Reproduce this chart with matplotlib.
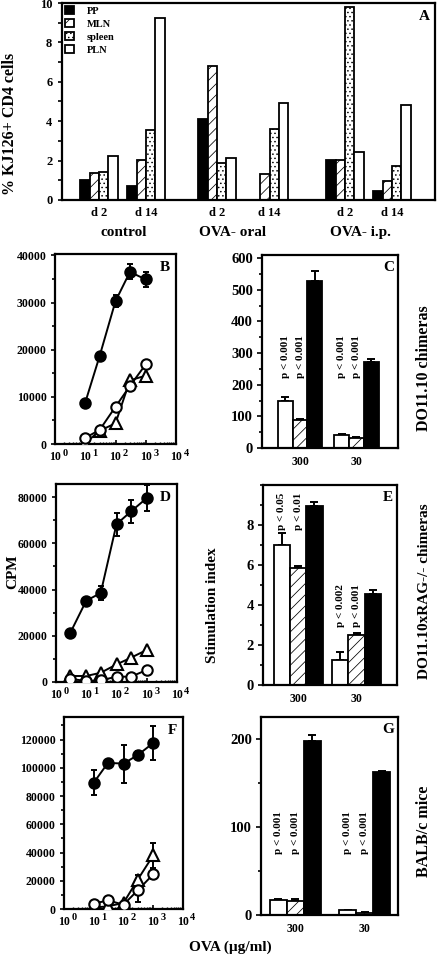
import matplotlib
matplotlib.use('Agg')
import matplotlib.pyplot as plt
import numpy as np
from matplotlib.transforms import offset_copy, blended_transform_factory
from matplotlib.ticker import MultipleLocator, FixedLocator, NullFormatter

plt.rcParams['font.family'] = ['Liberation Serif', 'DejaVu Serif']
plt.rcParams['font.weight'] = 'bold'
plt.rcParams['hatch.linewidth'] = 0.55

# ---------------- data ----------------
# Panel A
day_labels = ['d 2', 'd 14', 'd 2', 'd 14', 'd 2', 'd 14']
treatments = ['control', 'OVA- oral', 'OVA- i.p.']
organs = ['PP', 'MLN', 'spleen', 'PLN']
A_PP = [0.99, 0.72, 4.12, 0.0, 2.04, 0.45]
A_MLN = [1.37, 2.02, 6.80, 1.30, 2.03, 0.96]
A_spleen = [1.43, 3.53, 1.88, 3.60, 9.80, 1.72]
A_PLN = [2.25, 9.24, 2.15, 4.90, 2.46, 4.83]

# Panels B, D, F (CPM vs OVA concentration)
conc_B = [10, 30, 100, 300, 1000]
B_filled = [8800, 18700, 30300, 36500, 34900]
B_filled_err = [0, 0, 1300, 1600, 1500]
B_open = [1300, 3000, 7900, 12300, 16900]
B_open_err = [0, 0, 0, 0, 0]
B_tri = [200, 2800, 4400, 13500, 14500]
B_tri_err = [0, 0, 0, 0, 0]

conc_D = [3, 10, 30, 100, 300, 1000]
D_filled = [21400, 35200, 38500, 68300, 73800, 79600]
D_filled_err = [0, 0, 3000, 5000, 5000, 5800]
D_open = [1400, 400, 700, 2300, 2300, 5200]
D_open_err = [0, 0, 0, 0, 0, 0]
D_tri = [2600, 2600, 4000, 7600, 10500, 13900]
D_tri_err = [0, 0, 0, 0, 0, 0]

conc_F = [10, 30, 100, 300, 1000]
F_filled = [89500, 103500, 103000, 109000, 117600]
F_filled_err = [9000, 0, 13500, 3000, 12000]
F_open = [3800, 6100, 3100, 13200, 24600]
F_open_err = [0, 0, 0, 8000, 3000]
F_tri = [1000, 1900, 4300, 20800, 38000]
F_tri_err = [0, 0, 0, 3000, 8800]

# Panels C, E, G (bars at 300 and 30 ug/ml)
bar_cats = ['300', '30']
C_white = [150, 40]; C_white_err = [10, 4]
C_hatch = [87, 33]; C_hatch_err = [5, 3]
C_black = [528, 272]; C_black_err = [30, 10]
C_p = [['p < 0.001', 'p < 0.001'], ['p < 0.001', 'p < 0.001']]
C_p_y = [221, 221]

E_white = [7.0, 1.25]; E_white_err = [0.6, 0.38]
E_hatch = [5.83, 2.5]; E_hatch_err = [0.12, 0.08]
E_black = [8.95, 4.55]; E_black_err = [0.2, 0.2]
E_p = [['p < 0.05', 'p < 0.01'], ['p < 0.002', 'p < 0.001']]
E_p_y = [7.75, 2.92]

G_white = [16.8, 5.6]; G_white_err = [1.5, 0.5]
G_hatch = [15.7, 2.6]; G_hatch_err = [3.0, 0.5]
G_black = [198, 162.6]; G_black_err = [7, 1.5]
G_p = [['p < 0.001', 'p < 0.001'], ['p < 0.001', 'p < 0.001']]
G_p_y = [69, 69]

# ---------------- figure ----------------
W, H = 437, 958
fig = plt.figure(figsize=(W / 100, H / 100), dpi=100)


def axes_px(l, t, r, b):
    return fig.add_axes([l / W, 1 - b / H, (r - l) / W, (b - t) / H])


def ftext(x, y, s, **kw):
    fig.text(x / W, 1 - y / H, s, **kw)


def spines(ax, lw=1.6):
    for s in ax.spines.values():
        s.set_linewidth(lw)


MLN_HATCH = '///'
SPLEEN_HATCH = '....'

# ---- Panel A ----
axA = axes_px(62, 3, 435, 200)
spines(axA)
xc = np.array([37, 84, 155, 207.5, 283, 330])
bw = 9.4
styles = [('black', ''), ('white', MLN_HATCH), ('white', SPLEEN_HATCH), ('white', '')]
for i, (vals, name) in enumerate(zip([A_PP, A_MLN, A_spleen, A_PLN], organs)):
    fc, hatch = styles[i]
    axA.bar(xc + (i - 1.5) * bw, vals, width=bw, color=fc, hatch=hatch,
            edgecolor='black', linewidth=1.3, label=name)
axA.set_xlim(0, 373)
axA.set_ylim(0, 10)
axA.yaxis.set_major_locator(MultipleLocator(2))
axA.yaxis.set_minor_locator(MultipleLocator(1))
axA.tick_params(axis='y', which='both', direction='out', length=3, width=1.2,
                labelsize=9, pad=4)
axA.set_xticks(xc)
axA.set_xticklabels(day_labels, fontsize=9)
axA.tick_params(axis='x', length=0, pad=5)
leg = axA.legend(loc='upper left', frameon=False, fontsize=7.5, handlelength=0.9,
                 handleheight=0.9, handletextpad=1.2, labelspacing=0.3,
                 borderaxespad=0.15, borderpad=0.1)
axA.text(0.985, 0.93, 'A', transform=axA.transAxes, ha='right', va='center',
         fontsize=11)
for name, x in zip(treatments, [124, 233, 360]):
    ftext(x, 232, name, ha='center', va='center', fontsize=11)
ftext(10, 124, '% KJ126+ CD4 cells', rotation=90, ha='center', va='center',
      fontsize=11.5)


# ---- line panels ----
def line_panel(ax, conc, series, ymax, ymaj, ymin, letter):
    spines(ax)
    ax.set_xscale('log')
    for vals, errs, marker, mfc, ms in series:
        ax.plot(conc, vals, '-', color='black', lw=1.4, zorder=2)
        c = [x for x, e in zip(conc, errs) if e > 0]
        v = [y for y, e in zip(vals, errs) if e > 0]
        e = [e for e in errs if e > 0]
        if e:
            ax.errorbar(c, v, yerr=e, fmt='none', ecolor='black', elinewidth=1.4,
                        capsize=2.5, capthick=1.4, zorder=2)
        ax.plot(conc, vals, linestyle='none', marker=marker, ms=ms, mfc=mfc,
                mec='black', mew=1.5, zorder=3)
    ax.set_xlim(1, 1e4)
    ax.set_ylim(0, ymax)
    ax.yaxis.set_major_locator(MultipleLocator(ymaj))
    ax.yaxis.set_minor_locator(MultipleLocator(ymin))
    ax.tick_params(axis='y', which='both', direction='out', width=1.2, labelsize=8.5,
                   pad=3)
    ax.tick_params(axis='y', which='major', length=3)
    ax.tick_params(axis='y', which='minor', length=2)
    decades = [1, 10, 100, 1000, 10000]
    ax.xaxis.set_major_locator(FixedLocator(decades))
    ax.xaxis.set_minor_locator(FixedLocator(
        [d * k for d in decades[:-1] for k in range(2, 10)]))
    ax.xaxis.set_minor_formatter(NullFormatter())
    ax.set_xticklabels(['10'] * len(decades), fontsize=8.5)
    ax.tick_params(axis='x', which='major', direction='in', length=3, width=1.2,
                   pad=5)
    ax.tick_params(axis='x', which='minor', direction='in', length=1.8, width=1.0)
    tr = blended_transform_factory(ax.transData, ax.transAxes)
    for k, d in enumerate(decades):
        ax.text(d, 0, str(k), transform=offset_copy(tr, fig=fig, x=10, y=-9,
                                                     units='dots'),
                ha='center', va='center', fontsize=7.5)
    ax.text(0.95, 0.93, letter, transform=ax.transAxes, ha='right', va='center',
            fontsize=11)


axB = axes_px(55, 254, 176, 444)
line_panel(axB, conc_B,
           [(B_tri, B_tri_err, '^', 'white', 8),
            (B_open, B_open_err, 'o', 'white', 7.5),
            (B_filled, B_filled_err, 'o', 'black', 7.5)],
           40300, 10000, 5000, 'B')

axD = axes_px(56, 484, 177, 682)
line_panel(axD, conc_D,
           [(D_tri, D_tri_err, '^', 'white', 8),
            (D_open, D_open_err, 'o', 'white', 7.5),
            (D_filled, D_filled_err, 'o', 'black', 7.5)],
           85700, 20000, 10000, 'D')

axF = axes_px(64, 717, 183, 909)
line_panel(axF, conc_F,
           [(F_tri, F_tri_err, '^', 'white', 8),
            (F_open, F_open_err, 'o', 'white', 7.5),
            (F_filled, F_filled_err, 'o', 'black', 7.5)],
           136000, 20000, 10000, 'F')


# ---- bar panels ----
def bar_panel(ax, white, werr, hatched, herr, black, berr, w, xlim, ymax, ymaj,
              ymin, ptexts, py, letter):
    spines(ax)
    x = np.arange(len(bar_cats))
    sets = [(white, werr, 'white', ''), (hatched, herr, 'white', MLN_HATCH),
            (black, berr, 'black', '')]
    for i, (vals, errs, fc, hatch) in enumerate(sets):
        xs = x + (i - 1) * w
        ax.bar(xs, vals, width=w, color=fc, hatch=hatch, edgecolor='black',
               linewidth=1.3, zorder=2)
        ax.errorbar(xs, vals, yerr=[np.zeros(len(errs)), errs], fmt='none',
                    ecolor='black', elinewidth=1.4, capsize=3, capthick=1.4,
                    zorder=1)
    for j in range(len(bar_cats)):
        for i in range(2):
            ax.text(x[j] + (i - 1) * w, py[j], ptexts[j][i], rotation=90,
                    ha='center', va='bottom', fontsize=8)
    ax.set_xlim(*xlim)
    ax.set_ylim(0, ymax)
    ax.set_xticks(x)
    ax.set_xticklabels(bar_cats, fontsize=8.5)
    ax.tick_params(axis='x', length=0, pad=6)
    ax.yaxis.set_major_locator(MultipleLocator(ymaj))
    ax.yaxis.set_minor_locator(MultipleLocator(ymin))
    ax.tick_params(axis='y', which='both', direction='out', width=1.2,
                   labelsize=10.5, pad=3)
    ax.tick_params(axis='y', which='major', length=3.5)
    ax.tick_params(axis='y', which='minor', length=2)
    ax.text(0.97, 0.935, letter, transform=ax.transAxes, ha='right', va='center',
            fontsize=11)


axC = axes_px(262, 255, 398, 448)
bar_panel(axC, C_white, C_white_err, C_hatch, C_hatch_err, C_black, C_black_err,
          0.265, (-0.673, 1.735), 610, 100, 50, C_p, C_p_y, 'C')

axE = axes_px(263, 485, 397, 685)
bar_panel(axE, E_white, E_white_err, E_hatch, E_hatch_err, E_black, E_black_err,
          0.28, (-0.6, 1.69), 10, 2, 1, E_p, E_p_y, 'E')
axE.set_yticks([0, 2, 4, 6, 8])

axG = axes_px(261, 717, 398, 915)
bar_panel(axG, G_white, G_white_err, G_hatch, G_hatch_err, G_black, G_black_err,
          0.245, (-0.49, 1.48), 225, 100, 50, G_p, G_p_y, 'G')

# ---- outer labels ----
ftext(13, 572, 'CPM', rotation=90, ha='center', va='center', fontsize=11)
ftext(212, 605, 'Stimulation index', rotation=90, ha='center', va='center',
      fontsize=11)
ftext(424, 368, 'DO11.10 chimeras', rotation=90, ha='center', va='center',
      fontsize=11.5)
ftext(424, 591, 'DO11.10xRAG-/- chimeras', rotation=90, ha='center', va='center',
      fontsize=11)
ftext(424, 831, 'BALB/c mice', rotation=90, ha='center', va='center',
      fontsize=11.5)
ftext(230, 947, 'OVA (\u00b5g/ml)', ha='center', va='center', fontsize=11)

fig.savefig('out.png', dpi=100)
